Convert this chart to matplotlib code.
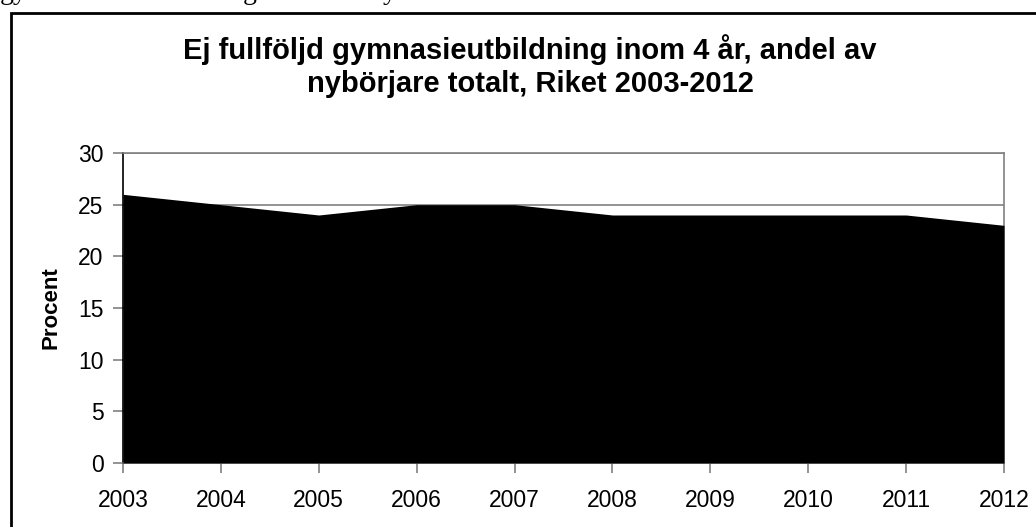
import matplotlib.pyplot as plt
from matplotlib.patches import Rectangle

years = [2003, 2004, 2005, 2006, 2007, 2008, 2009, 2010, 2011, 2012]
procent = [26, 25, 24, 25, 25, 24, 24, 24, 24, 23]
title = "Ej fullföljd gymnasieutbildning inom 4 år, andel av\nnybörjare totalt, Riket 2003-2012"

plt.rcParams['font.family'] = ['Liberation Sans', 'DejaVu Sans']

fig = plt.figure(figsize=(10.36, 5.27), dpi=100)
ax = fig.add_axes([123/1036, 1-463/527, (1004-123)/1036, (463-153)/527])

ax.fill_between(years, procent, 0, color='black', lw=0, zorder=3)
ax.set_xlim(2003, 2012)
ax.set_ylim(0, 30)
ax.set_xticks(years)
ax.set_yticks(range(0, 31, 5))
ax.grid(axis='y', color='#808080', lw=1.2, zorder=1)
for s in ax.spines.values():
    s.set_color('#808080')
    s.set_linewidth(1.2)
ax.spines['left'].set_color('black')
ax.tick_params(axis='both', direction='out', length=7, width=1.2, color='#808080', labelsize=16.5)
ax.tick_params(axis='x', pad=12)
ax.tick_params(axis='y', pad=7)
ax.set_ylabel("Procent", fontsize=16, fontweight='bold', labelpad=12)

fig.text(530/1036, 1-66/527, title, ha='center', va='center', fontsize=21,
         fontweight='bold', linespacing=1.2)

# chart frame (clipped by page edge)
fig.patches.append(Rectangle((11/1036, -0.1), 1.2, 1-13/527+0.1, transform=fig.transFigure,
                             fill=False, ec='black', lw=2))

# descenders of page text above the chart
for x, s in [(0, "gy"), (243/1036, "g"), (383/1036, "y")]:
    fig.text(x, 1+1/527, s, family='Liberation Serif', fontsize=20, va='baseline')

fig.savefig("out.png", dpi=100)
